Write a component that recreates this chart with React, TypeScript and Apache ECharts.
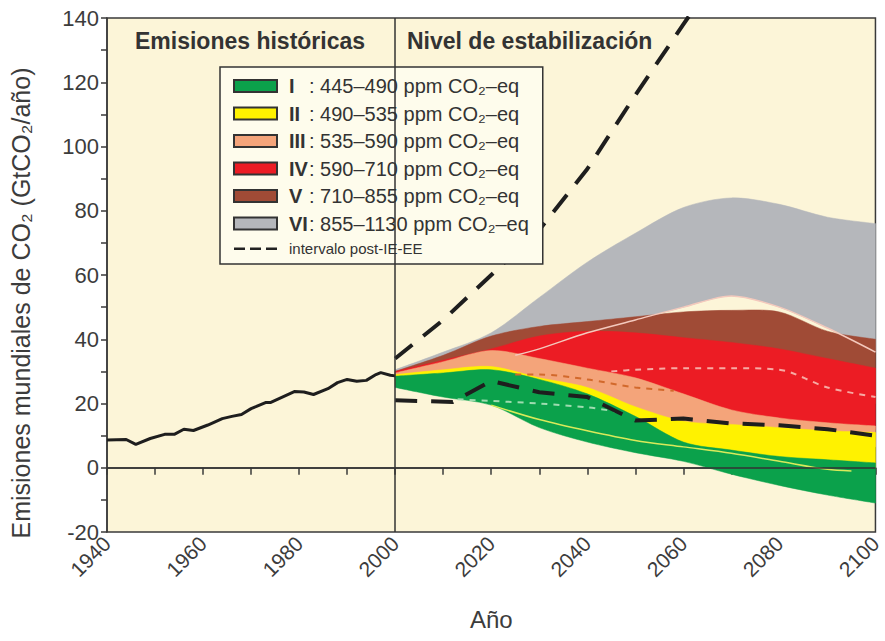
import React, { useEffect, useRef } from "react";
import * as echarts from "echarts";

// ---------- data ----------
const histYears = [1940, 1944, 1946, 1949, 1952, 1954, 1956, 1958, 1961, 1964, 1966, 1968, 1970, 1971, 1973, 1974, 1979, 1981, 1983, 1986, 1988, 1990, 1992, 1994, 1996, 1997, 1999, 2000];
const histValues = [8.6, 8.8, 7.3, 9.1, 10.4, 10.4, 12.0, 11.6, 13.3, 15.3, 16.0, 16.6, 18.4, 19.0, 20.3, 20.3, 23.7, 23.6, 22.8, 24.6, 26.5, 27.5, 26.9, 27.2, 29.0, 29.6, 28.8, 28.6];

const bandYears = [2000, 2010, 2020, 2030, 2040, 2050, 2060, 2070, 2080, 2090, 2100];
// category VI (gray)
const viHigh = [30.5, 36, 42, 53, 64, 73, 81, 84, 82, 78, 76];
const viLow = [29.5, 31, 33, 37, 42, 46, 50, 53.5, 50, 43.5, 36];
// category V (brown)
const vHigh = [30, 35, 41, 44, 45.5, 47, 48.5, 49, 48.5, 42.5, 40];
const vLow = [29, 31, 34, 36, 36, 34, 31, 28, 25, 22, 20];
// category IV (red)
const ivHigh = [30, 33.5, 37, 41, 42.5, 42, 40.5, 39, 37, 34, 31];
const ivLow = [28, 29, 31, 29, 26, 22, 18, 15, 13.5, 12.5, 12];
// category III (salmon)
const iiiHigh = [29.5, 33, 36.5, 34, 31, 28, 23, 18, 15.5, 14, 13];
const iiiLow = [27, 27, 28, 25, 21, 15, 11, 9, 8, 7, 6.5];
// category II (yellow)
const iiHigh = [29, 30.5, 31.5, 28, 25, 19, 14.5, 13.5, 12.5, 11.5, 11];
const iiLow = [26, 24, 23, 19, 14, 9, 4.5, 2.5, 1, 0.5, 0];
// category I (green)
const iHigh = [28.5, 29.5, 30.5, 27.5, 23, 16, 8, 5.5, 3.5, 2.5, 1.5];
const iLow = [25, 22, 19.5, 12.5, 8, 4.7, 2, -2, -5.5, -8.5, -11];

// post-SRES range (black dashed)
const postUpperYears = [2000, 2010, 2020, 2030, 2040, 2050, 2060, 2070];
const postUpperValues = [34, 46, 60, 74, 93, 116, 138, 160];
const postLowerYears = [2000, 2012, 2020, 2030, 2040, 2050, 2060, 2070, 2080, 2090, 2100];
const postLowerValues = [21, 20.5, 27, 23.5, 22, 14.7, 15.3, 13.8, 13.2, 12, 10];

// thin median lines inside the bands
const grayLowYears = [2025, 2030, 2040, 2050, 2060, 2070, 2080, 2090, 2100];
const grayLowValues = [35, 37, 42, 46, 50, 53.5, 50, 43.5, 36];
const redMedYears = [2045, 2050, 2060, 2070, 2080, 2090, 2100];
const redMedValues = [30, 30.5, 31, 31, 30.5, 25, 22];
const salmonMedYears = [2025, 2030, 2040, 2050, 2058];
const salmonMedValues = [29, 29, 27.5, 25, 24];
const greenMedYears = [2013, 2020, 2030, 2040, 2046];
const greenMedValues = [21.3, 20.8, 20, 18.8, 17.5];
const yellowLineYears = [2020, 2030, 2040, 2050, 2060, 2070, 2080, 2090, 2095];
const yellowLineValues = [19.5, 15, 11.5, 8.5, 6.5, 4.5, 2, -0.5, -1];

const categories = ["I", "II", "III", "IV", "V", "VI"];
const categoryLabels = [
  "445–490 ppm CO₂–eq",
  "490–535 ppm CO₂–eq",
  "535–590 ppm CO₂–eq",
  "590–710 ppm CO₂–eq",
  "710–855 ppm CO₂–eq",
  "855–1130 ppm CO₂–eq",
];
const categoryColors = ["#0ba14b", "#fff200", "#f4a47a", "#ec1c24", "#a04b36", "#b5b7bb"];
const dashName = "intervalo post-IE-EE";

const FONT = '"Liberation Sans", Arial, sans-serif';
const DASH_ICON =
  "path://M0,5H11V7.4H0Z M16,5H27V7.4H16Z M32,5H43V7.4H32Z M0,0H0.01V0.01H0Z M42.99,11.99H43V12H42.99Z";

function pairs(xs: number[], ys: number[]) {
  return xs.map((x, i) => [x, ys[i]]);
}

// Catmull-Rom spline through pixel points, as SVG path commands (no initial M)
function splineSegments(pts: number[][], t: number) {
  let d = "";
  for (let i = 0; i < pts.length - 1; i++) {
    const p0 = pts[Math.max(0, i - 1)];
    const p1 = pts[i];
    const p2 = pts[i + 1];
    const p3 = pts[Math.min(pts.length - 1, i + 2)];
    const c1x = p1[0] + ((p2[0] - p0[0]) / 6) * t;
    const c1y = p1[1] + ((p2[1] - p0[1]) / 6) * t;
    const c2x = p2[0] - ((p3[0] - p1[0]) / 6) * t;
    const c2y = p2[1] - ((p3[1] - p1[1]) / 6) * t;
    d += ` C${c1x},${c1y} ${c2x},${c2y} ${p2[0]},${p2[1]}`;
  }
  return d;
}

function bandSeries(name: string, low: number[], high: number[], color: string) {
  return {
    type: "custom",
    name,
    data: bandYears.map((y, i) => [y, low[i], high[i]]),
    encode: { x: 0, y: [1, 2] },
    clip: true,
    silent: true,
    itemStyle: { color },
    renderItem: (params: any, api: any) => {
      if (params.dataIndex !== 0) return null;
      const top = bandYears.map((y, i) => api.coord([y, high[i]]));
      const bot = bandYears.map((y, i) => api.coord([y, low[i]])).reverse();
      const d =
        `M${top[0][0]},${top[0][1]}` +
        splineSegments(top, 0.9) +
        ` L${bot[0][0]},${bot[0][1]}` +
        splineSegments(bot, 0.9) +
        " Z";
      return {
        type: "path",
        shape: { pathData: d },
        style: { fill: color, stroke: color, lineWidth: 0.5 },
      };
    },
  };
}

function thinLine(name: string, xs: number[], ys: number[], color: string, type: any, width: number) {
  return {
    type: "line",
    name,
    data: pairs(xs, ys),
    symbol: "none",
    smooth: 0.3,
    lineStyle: { color, type, width },
    silent: true,
  };
}

export default function App() {
  const ref = useRef<HTMLDivElement>(null);
  useEffect(() => {
    if (!ref.current) return;
    const chart = echarts.init(ref.current, undefined, { renderer: "svg" });
    const lows = [iLow, iiLow, iiiLow, ivLow, vLow, viLow];
    const highs = [iHigh, iiHigh, iiiHigh, ivHigh, vHigh, viHigh];
    const bands: any[] = [];
    for (let k = 5; k >= 0; k--) {
      bands.push(bandSeries(categories[k], lows[k], highs[k], categoryColors[k]));
    }
    const option: any = {
      animation: false,
      textStyle: { fontFamily: FONT },
      grid: {
        left: 107,
        right: 8,
        top: 18,
        bottom: 109,
        show: true,
        backgroundColor: "#fcf5d8",
        borderColor: "#3a3a3a",
        borderWidth: 1.5,
      },
      xAxis: {
        type: "value",
        min: 1940,
        max: 2100,
        interval: 10,
        splitLine: { show: false },
        axisLine: { show: true, lineStyle: { color: "#3a3a3a", width: 1.5 } },
        axisTick: { show: true, length: 7, lineStyle: { color: "#3a3a3a", width: 1.5 } },
        axisLabel: {
          rotate: 45,
          fontSize: 21,
          color: "#3c3c3c",
          margin: 8,
          fontFamily: FONT,
          formatter: (v: number) => (v % 20 === 0 ? String(v) : ""),
        },
        name: "Año",
        nameLocation: "middle",
        nameGap: 75,
        nameTextStyle: { fontSize: 24, color: "#3c3c3c", fontFamily: FONT },
      },
      yAxis: {
        type: "value",
        min: -20,
        max: 140,
        interval: 10,
        splitLine: { show: false },
        axisLine: { show: true, lineStyle: { color: "#3a3a3a", width: 1.5 } },
        axisTick: { show: true, length: 6, lineStyle: { color: "#3a3a3a", width: 1.5 } },
        axisLabel: {
          fontSize: 22,
          color: "#3c3c3c",
          margin: 8,
          fontFamily: FONT,
          formatter: (v: number) => (v % 20 === 0 ? String(v) : ""),
        },
        name: "Emisiones mundiales de CO₂ (GtCO₂/año)",
        nameLocation: "middle",
        nameGap: 74,
        nameTextStyle: { fontSize: 25, color: "#3c3c3c", fontFamily: FONT, padding: [0, 56, 0, 0] },
      },
      legend: {
        orient: "vertical",
        left: 220,
        top: 67,
        padding: [9, 14, 8, 13],
        itemGap: 7.5,
        itemWidth: 43,
        itemHeight: 12,
        backgroundColor: "#fefcec",
        borderColor: "#333",
        borderWidth: 1.5,
        borderRadius: 0,
        selectedMode: false,
        textStyle: {
          fontSize: 20,
          color: "#333",
          fontFamily: FONT,
          rich: {
            r: { fontWeight: "bold", fontSize: 20, width: 20, padding: [0, 0, 0, 7], fontFamily: FONT, color: "#333" },
            t: { fontSize: 20, fontFamily: FONT, color: "#333" },
            s: { fontSize: 15, fontFamily: FONT, color: "#333", padding: [0, 0, 0, 7] },
          },
        },
        data: [
          ...categories.map((c, i) => ({
            name: c,
            icon: "rect",
            itemStyle: { color: categoryColors[i], borderColor: "#333", borderWidth: 2 },
          })),
          {
            name: dashName,
            icon: DASH_ICON,
            itemStyle: { color: "#222", borderWidth: 0 },
          },
        ],
        formatter: (name: string) => {
          const idx = categories.indexOf(name);
          if (idx < 0) return "{s|" + name + "}";
          return "{r|" + name + "}{t|: " + categoryLabels[idx] + "}";
        },
      },
      graphic: [
        {
          type: "text",
          left: 135,
          top: 29,
          style: { text: "Emisiones históricas", font: 'bold 23px "Liberation Sans", Arial, sans-serif', fill: "#333" },
        },
        {
          type: "text",
          left: 407,
          top: 29,
          style: { text: "Nivel de estabilización", font: 'bold 23px "Liberation Sans", Arial, sans-serif', fill: "#333" },
        },
      ],
      series: [
        ...bands,
        thinLine("gray-low", grayLowYears, grayLowValues, "#f4c9bd", "solid", 1.5),
        thinLine("red-med", redMedYears, redMedValues, "#f7aaa3", [6, 6], 2),
        thinLine("salmon-med", salmonMedYears, salmonMedValues, "#d2692c", [6, 6], 2),
        thinLine("green-med", greenMedYears, greenMedValues, "#9fdcb0", [6, 6], 2),
        thinLine("yellow-line", yellowLineYears, yellowLineValues, "#d9ea5a", "solid", 1.5),
        {
          type: "line",
          name: dashName,
          data: pairs(postUpperYears, postUpperValues),
          symbol: "none",
          lineStyle: { color: "#1e1e1e", type: [22, 14], width: 4 },
          itemStyle: { color: "#1e1e1e" },
          silent: true,
        },
        {
          type: "line",
          name: dashName,
          data: pairs(postLowerYears, postLowerValues),
          symbol: "none",
          lineStyle: { color: "#1e1e1e", type: [22, 14], width: 4 },
          itemStyle: { color: "#1e1e1e" },
          silent: true,
        },
        {
          type: "line",
          name: "historical",
          data: pairs(histYears, histValues),
          symbol: "none",
          lineStyle: { color: "#1e1e1e", width: 3 },
          silent: true,
          markLine: {
            silent: true,
            symbol: "none",
            label: { show: false },
            lineStyle: { color: "#333", type: "solid", width: 1.5 },
            data: [{ xAxis: 2000 }, { yAxis: 0 }],
          },
        },
      ],
    };
    chart.setOption(option);
    return () => chart.dispose();
  }, []);
  return (
    <div
      ref={ref}
      style={{ position: "fixed", left: 0, top: 0, width: 885, height: 641, background: "#ffffff" }}
    />
  );
}
